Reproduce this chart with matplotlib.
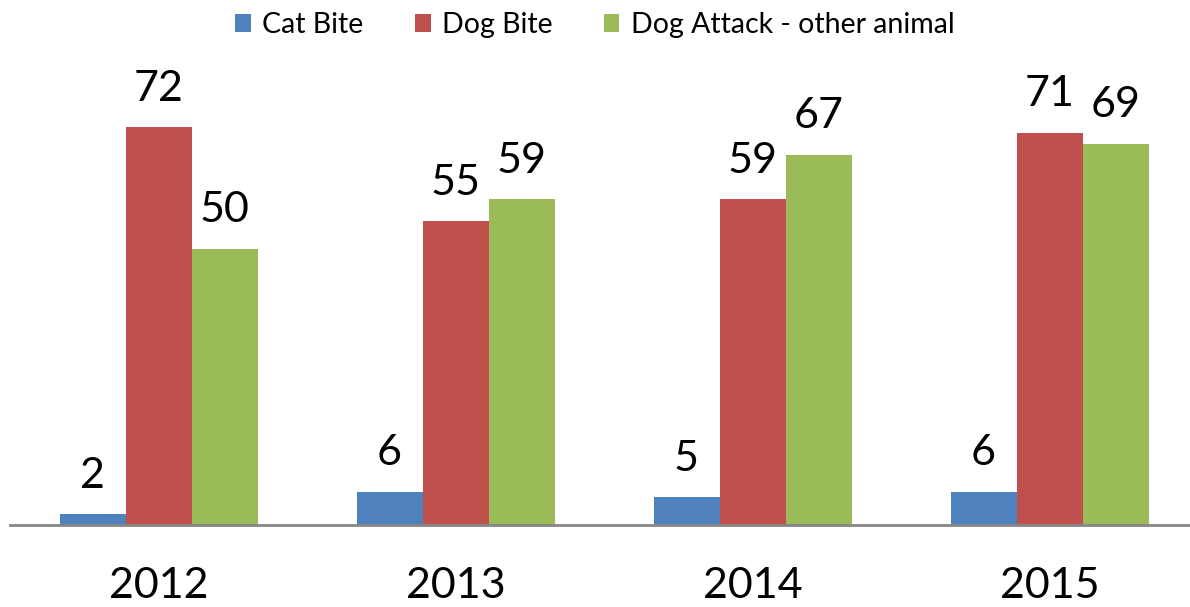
import numpy as np
import matplotlib.pyplot as plt

years = ['2012', '2013', '2014', '2015']
cat_bite = [2, 6, 5, 6]
dog_bite = [72, 55, 59, 71]
dog_attack = [50, 59, 67, 69]

series = [('Cat Bite', cat_bite, '#4F81BD'),
          ('Dog Bite', dog_bite, '#C0504D'),
          ('Dog Attack - other animal', dog_attack, '#9BBB59')]

plt.rcParams['font.family'] = ['Lato', 'DejaVu Sans']

W, H = 1190, 607
fig = plt.figure(figsize=(W / 100, H / 100), dpi=100)
# axes in pixel terms: left 10, width 1188, bottom at y=525, top at y=83
ax = fig.add_axes([10 / W, (H - 525) / H, 1188 / W, 442 / H])

x = np.arange(len(years))
bw = 66 / 297
for i, (name, vals, col) in enumerate(series):
    bars = ax.bar(x + (i - 1) * bw, vals, bw, color=col, label=name)
    ax.bar_label(bars, labels=[str(v) for v in vals], padding=14, fontsize=31)

ax.set_xlim(-0.5, len(years) - 0.5)
ax.set_ylim(0, 80)
ax.set_xticks(x)
ax.set_xticklabels(years, fontsize=31)
ax.tick_params(axis='x', length=0, pad=30)
ax.set_yticks([])
for s in ['top', 'right', 'left']:
    ax.spines[s].set_visible(False)
ax.spines['bottom'].set_color('#868686')
ax.spines['bottom'].set_linewidth(2)

fig.legend(loc='center', bbox_to_anchor=(0.5, 1 - 25 / H), ncol=3, frameon=False,
           fontsize=20.5, handlelength=0.55, handleheight=0.55, handletextpad=0.4,
           columnspacing=1.8)

fig.savefig('out.png', dpi=100)
